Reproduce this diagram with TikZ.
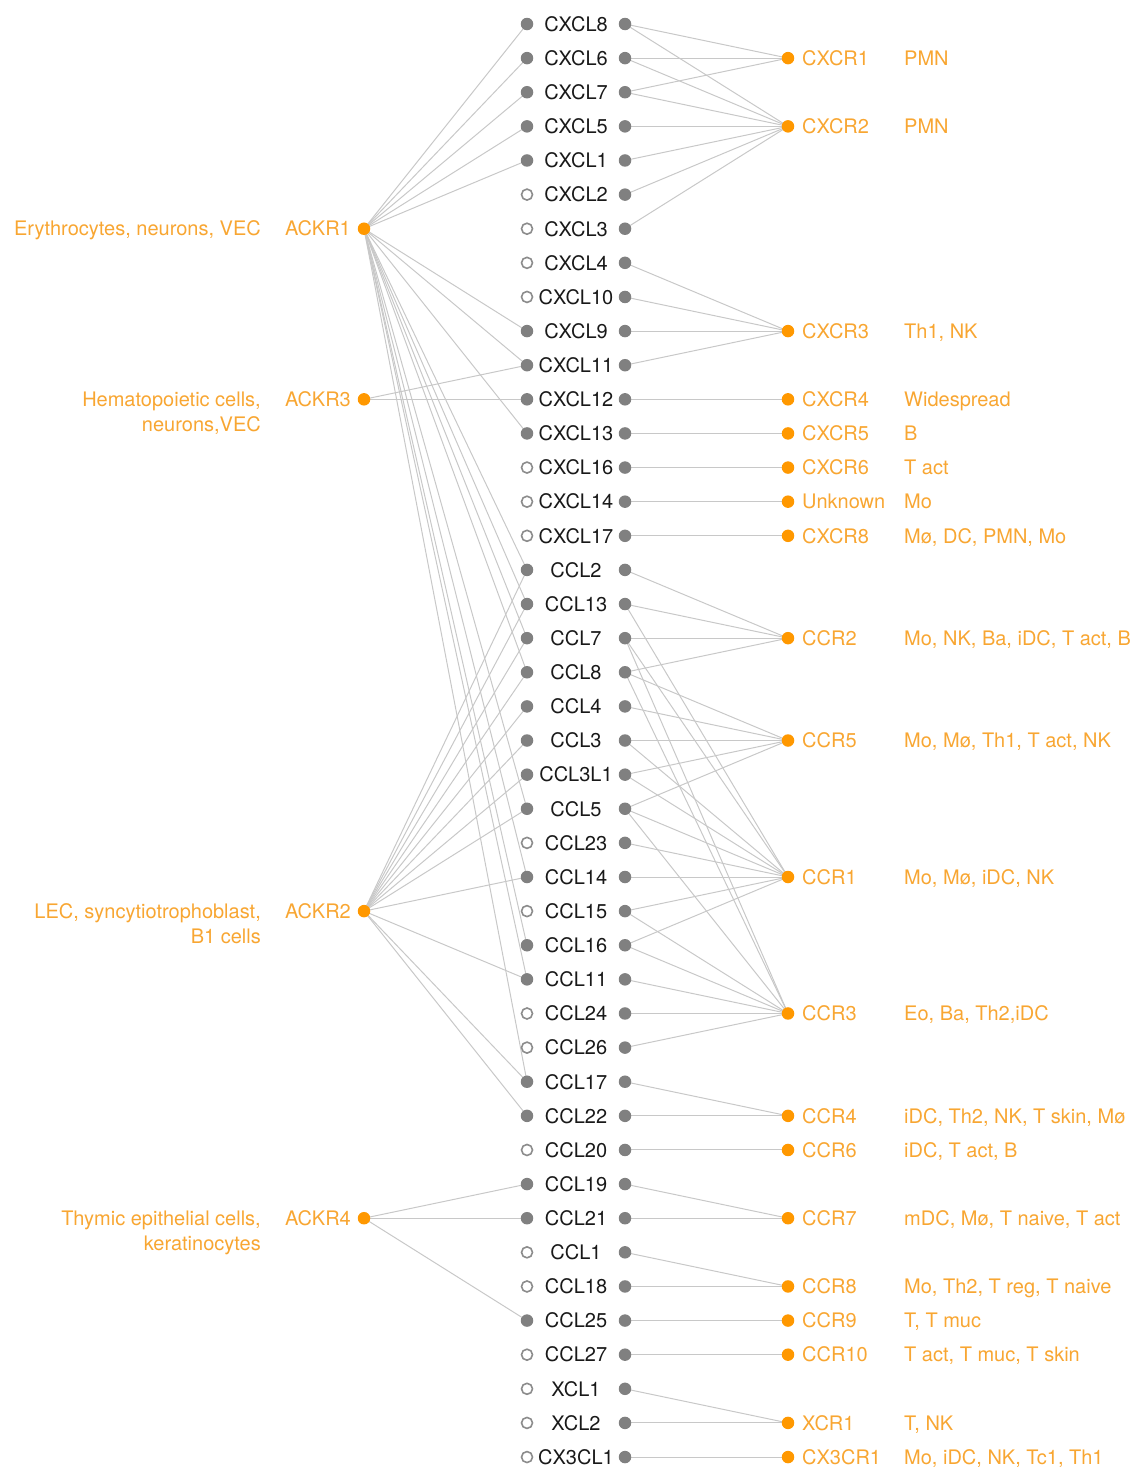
\documentclass[tikz,border=0pt]{standalone}
\usepackage{fontspec}
\setmainfont{TeX Gyre Heros}
\usetikzlibrary{backgrounds}
\definecolor{dotorange}{RGB}{255,152,0}
\definecolor{txtorange}{RGB}{248,166,50}
\definecolor{dotgray}{RGB}{128,128,128}
\definecolor{opengray}{RGB}{140,140,140}
\definecolor{edgegray}{RGB}{200,200,200}
\definecolor{ligtext}{RGB}{25,25,25}
\tikzset{
  fdot/.style={circle,fill=dotgray,inner sep=0pt,minimum size=12.5pt},
  odot/.style={circle,draw=opengray,line width=1.6pt,fill=white,inner sep=0pt,minimum size=11pt},
  rdot/.style={circle,fill=dotorange,inner sep=0pt,minimum size=12.5pt},
  lig/.style={font=\fontsize{20}{24}\selectfont,text=ligtext,inner sep=0pt},
  otext/.style={font=\fontsize{20}{24}\selectfont,text=txtorange,inner sep=0pt},
  edge/.style={draw=edgegray,line width=1pt},
}
\begin{document}
\begin{tikzpicture}[x=1pt,y=-1pt]
\useasboundingbox (0,0) rectangle (1137,1467);
% ligands
\foreach \nm/\i/\st in {CXCL8/0/fdot,CXCL6/1/fdot,CXCL7/2/fdot,CXCL5/3/fdot,CXCL1/4/fdot,
  CXCL2/5/odot,CXCL3/6/odot,CXCL4/7/odot,CXCL10/8/odot,CXCL9/9/fdot,CXCL11/10/fdot,
  CXCL12/11/fdot,CXCL13/12/fdot,CXCL16/13/odot,CXCL14/14/odot,CXCL17/15/odot,
  CCL2/16/fdot,CCL13/17/fdot,CCL7/18/fdot,CCL8/19/fdot,CCL4/20/fdot,CCL3/21/fdot,
  CCL3L1/22/fdot,CCL5/23/fdot,CCL23/24/odot,CCL14/25/fdot,CCL15/26/odot,CCL16/27/fdot,
  CCL11/28/fdot,CCL24/29/odot,CCL26/30/odot,CCL17/31/fdot,CCL22/32/fdot,CCL20/33/odot,
  CCL19/34/fdot,CCL21/35/fdot,CCL1/36/odot,CCL18/37/odot,CCL25/38/fdot,CCL27/39/odot,
  XCL1/40/odot,XCL2/41/odot,CX3CL1/42/odot}{
  \node[\st] (L-\nm) at (527,{24+34.12*\i}) {};
  \node[fdot] (R-\nm) at (625,{24+34.12*\i}) {};
  \node[lig] (T-\nm) at (576,{24+34.12*\i}) {\nm};
}
% receptors
\foreach \nm/\i/\cell in {CXCR1/1/PMN,CXCR2/3/PMN,CXCR3/9/{Th1, NK},CXCR4/11/Widespread,
  CXCR5/12/B,CXCR6/13/T act,Unknown/14/Mo,CXCR8/15/{Mø, DC, PMN, Mo},
  CCR2/18/{Mo, NK, Ba, iDC, T act, B},CCR5/21/{Mo, Mø, Th1, T act, NK},
  CCR1/25/{Mo, Mø, iDC, NK},CCR3/29/{Eo, Ba, Th2,iDC},CCR4/32/{iDC, Th2, NK, T skin, Mø},
  CCR6/33/{iDC, T act, B},CCR7/35/{mDC, Mø, T naive, T act},CCR8/37/{Mo, Th2, T reg, T naive},
  CCR9/38/{T, T muc},CCR10/39/{T act, T muc, T skin},XCR1/41/{T, NK},
  CX3CR1/42/{Mo, iDC, NK, Tc1, Th1}}{
  \node[rdot] (\nm) at (788,{24+34.12*\i}) {};
  \node[otext,anchor=base west] (\nm-t) at (802,{24+34.12*\i+7.2}) {\nm};
  \node[otext,anchor=base west] (\nm-c) at (904,{24+34.12*\i+7.2}) {\cell};
}
% atypical receptors
\foreach \nm/\i/\ca/\cb in {ACKR1/6/{Erythrocytes, neurons, VEC}/{},
  ACKR3/11/{Hematopoietic cells,}/{neurons,VEC},
  ACKR2/26/{LEC, syncytiotrophoblast,}/{B1 cells},
  ACKR4/35/{Thymic epithelial cells,}/{keratinocytes}}{
  \node[rdot] (\nm) at (364,{24+34.12*\i}) {};
  \node[otext,anchor=base east] (\nm-t) at (351,{24+34.12*\i+7.2}) {\nm};
  \node[otext,anchor=base east] (\nm-c1) at (261,{24+34.12*\i+7.2}) {\ca};
  \node[otext,anchor=base east] (\nm-c2) at (261,{24+34.12*\i+32.2}) {\cb};
}
\begin{scope}[on background layer]
\foreach \a/\b in {
  ACKR1/L-CXCL8,ACKR1/L-CXCL6,ACKR1/L-CXCL7,ACKR1/L-CXCL5,ACKR1/L-CXCL1,ACKR1/L-CXCL9,
  ACKR1/L-CXCL11,ACKR1/L-CXCL13,ACKR1/L-CCL2,ACKR1/L-CCL13,ACKR1/L-CCL7,ACKR1/L-CCL8,
  ACKR1/L-CCL5,ACKR1/L-CCL14,ACKR1/L-CCL16,ACKR1/L-CCL11,ACKR1/L-CCL17,
  ACKR3/L-CXCL11,ACKR3/L-CXCL12,
  ACKR2/L-CCL2,ACKR2/L-CCL13,ACKR2/L-CCL7,ACKR2/L-CCL8,ACKR2/L-CCL4,ACKR2/L-CCL3,
  ACKR2/L-CCL3L1,ACKR2/L-CCL5,ACKR2/L-CCL14,ACKR2/L-CCL11,ACKR2/L-CCL17,ACKR2/L-CCL22,
  ACKR4/L-CCL19,ACKR4/L-CCL21,ACKR4/L-CCL25,
  R-CXCL8/CXCR1,R-CXCL6/CXCR1,R-CXCL7/CXCR1,
  R-CXCL8/CXCR2,R-CXCL6/CXCR2,R-CXCL7/CXCR2,R-CXCL5/CXCR2,R-CXCL1/CXCR2,R-CXCL2/CXCR2,R-CXCL3/CXCR2,
  R-CXCL4/CXCR3,R-CXCL10/CXCR3,R-CXCL9/CXCR3,R-CXCL11/CXCR3,
  R-CXCL12/CXCR4,R-CXCL13/CXCR5,R-CXCL16/CXCR6,R-CXCL14/Unknown,R-CXCL17/CXCR8,
  R-CCL2/CCR2,R-CCL13/CCR2,R-CCL7/CCR2,R-CCL8/CCR2,
  R-CCL8/CCR5,R-CCL4/CCR5,R-CCL3/CCR5,R-CCL3L1/CCR5,R-CCL5/CCR5,
  R-CCL13/CCR1,R-CCL7/CCR1,R-CCL3/CCR1,R-CCL3L1/CCR1,R-CCL5/CCR1,R-CCL23/CCR1,
  R-CCL14/CCR1,R-CCL15/CCR1,R-CCL16/CCR1,
  R-CCL7/CCR3,R-CCL8/CCR3,R-CCL5/CCR3,R-CCL15/CCR3,R-CCL16/CCR3,R-CCL11/CCR3,
  R-CCL24/CCR3,R-CCL26/CCR3,
  R-CCL17/CCR4,R-CCL22/CCR4,R-CCL20/CCR6,R-CCL19/CCR7,R-CCL21/CCR7,
  R-CCL1/CCR8,R-CCL18/CCR8,R-CCL25/CCR9,R-CCL27/CCR10,
  R-XCL1/XCR1,R-XCL2/XCR1,R-CX3CL1/CX3CR1}{
  \draw[edge] (\a.center) -- (\b.center);
}
\end{scope}
\end{tikzpicture}
\end{document}
